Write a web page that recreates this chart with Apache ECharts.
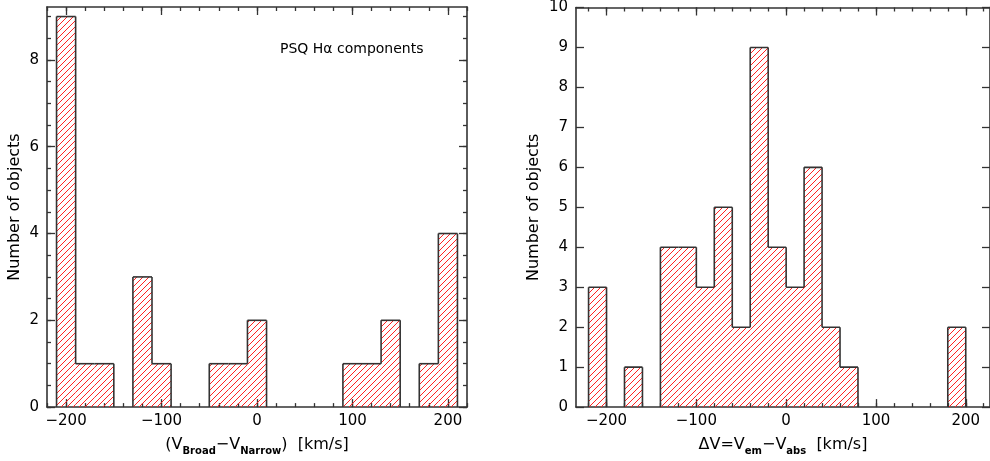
<!DOCTYPE html>
<html>
<head>
<meta charset="utf-8">
<title>Histograms</title>
<script src="https://cdn.jsdelivr.net/npm/echarts@6/dist/echarts.min.js"></script>
<style>
  html, body { margin: 0; padding: 0; background: #ffffff; }
  #chart { width: 990px; height: 461px; }
</style>
</head>
<body>
<div id="chart"></div>
<script>
// left panel: PSQ H-alpha components, bins of 20 km/s (left edges)
const leftEdges = [-210, -190, -170, -130, -110, -50, -30, -10, 90, 110, 130, 170, 190];
const leftCounts = [9, 1, 1, 3, 1, 1, 1, 2, 1, 1, 2, 1, 4];
// right panel: dV = V_em - V_abs
const rightEdges = [-220, -180, -140, -120, -100, -80, -60, -40, -20, 0, 20, 40, 60, 180];
const rightCounts = [3, 1, 4, 4, 3, 5, 2, 9, 4, 3, 6, 2, 1, 2];
const binWidth = 20;

const xMajorTicks = [-200, -100, 0, 100, 200];
const leftYTicks = [0, 2, 4, 6, 8];
const rightYTicks = [0, 1, 2, 3, 4, 5, 6, 7, 8, 9, 10];

const frameColor = '#333333';
const hatchColor = '#ff2222';
const hatchStep = 6;
const fontFamily = '"DejaVu Sans", sans-serif';

function steps(from, to, step) {
  const out = [];
  for (let v = from; v <= to + 1e-9; v += step) out.push(+v.toFixed(3));
  return out;
}

function histData(edges, counts) {
  return edges.map((e, i) => {
    const hl = (i > 0 && edges[i - 1] + binWidth === e) ? counts[i - 1] : 0;
    const hr = (i < edges.length - 1 && e + binWidth === edges[i + 1]) ? counts[i + 1] : 0;
    return [e, e + binWidth, counts[i], hl, hr];
  });
}

function renderItem(params, api) {
  const x0 = api.value(0), x1 = api.value(1), h = api.value(2);
  const hl = api.value(3), hr = api.value(4);
  const a = api.coord([x0, 0]);
  const b = api.coord([x1, h]);
  const xa = a[0], xb = b[0], ya = b[1], yb = a[1];
  const children = [];
  // "/" hatching: lines x + y = c in screen space
  let c = Math.ceil((xa + ya) / hatchStep) * hatchStep;
  for (; c < xb + yb; c += hatchStep) {
    const sx = Math.max(xa, c - yb), ex = Math.min(xb, c - ya);
    if (ex <= sx) continue;
    children.push({
      type: 'line',
      shape: { x1: sx, y1: c - sx, x2: ex, y2: c - ex },
      style: { stroke: hatchColor, lineWidth: 1 }
    });
  }
  const line = (p, q) => ({
    type: 'line',
    shape: { x1: p[0], y1: p[1], x2: q[0], y2: q[1] },
    style: { stroke: frameColor, lineWidth: 1.6 }
  });
  children.push(line(api.coord([x0, h]), api.coord([x1, h])));
  if (h > hl) children.push(line(api.coord([x0, hl]), api.coord([x0, h])));
  if (h > hr) children.push(line(api.coord([x1, hr]), api.coord([x1, h])));
  return { type: 'group', children: children };
}

const labelFmt = v => String(v).replace('-', '\u2212');
const tickStyle = { color: frameColor, width: 1.3 };
const frameLine = { show: true, onZero: false, lineStyle: { color: frameColor, width: 1.6 } };
const noLine = { show: false, onZero: false };

function xAxes(grid, min, max, name) {
  const minor = steps(Math.ceil(min / 20) * 20, max, 20);
  const base = { type: 'value', gridIndex: grid, min: min, max: max, splitLine: { show: false } };
  return [
    Object.assign({}, base, {
      position: 'bottom',
      axisLine: frameLine,
      axisTick: { show: true, inside: true, length: 8, customValues: xMajorTicks, lineStyle: tickStyle },
      axisLabel: { customValues: xMajorTicks, formatter: labelFmt, color: '#000', fontSize: 15, fontFamily: fontFamily, margin: 7 },
      name: name, nameLocation: 'middle', nameGap: 20,
      nameTextStyle: {
        color: '#000', fontSize: 16, fontFamily: fontFamily, lineHeight: 22,
        rich: { s: { fontSize: 10, fontWeight: 'bold', fontFamily: fontFamily, verticalAlign: 'bottom', lineHeight: 12, color: '#000' } }
      }
    }),
    Object.assign({}, base, {
      position: 'bottom',
      axisLine: noLine,
      axisTick: { show: true, inside: true, length: 4, customValues: minor, lineStyle: tickStyle },
      axisLabel: { show: false }
    }),
    Object.assign({}, base, {
      position: 'top',
      axisLine: frameLine,
      axisTick: { show: true, inside: true, length: 8, customValues: xMajorTicks, lineStyle: tickStyle },
      axisLabel: { show: false }
    }),
    Object.assign({}, base, {
      position: 'top',
      axisLine: noLine,
      axisTick: { show: true, inside: true, length: 4, customValues: minor, lineStyle: tickStyle },
      axisLabel: { show: false }
    })
  ];
}

function yAxes(grid, max, majors, minors, nameGap) {
  const base = { type: 'value', gridIndex: grid, min: 0, max: max, splitLine: { show: false } };
  const list = [
    Object.assign({}, base, {
      position: 'left',
      axisLine: frameLine,
      axisTick: { show: true, inside: true, length: 8, customValues: majors, lineStyle: tickStyle },
      axisLabel: { customValues: majors, color: '#000', fontSize: 15, fontFamily: fontFamily, margin: 8 },
      name: 'Number of objects', nameLocation: 'middle', nameGap: nameGap,
      nameTextStyle: { color: '#000', fontSize: 16, fontFamily: fontFamily }
    }),
    Object.assign({}, base, {
      position: 'right',
      axisLine: frameLine,
      axisTick: { show: true, inside: true, length: 8, customValues: majors, lineStyle: tickStyle },
      axisLabel: { show: false }
    })
  ];
  if (minors) {
    list.push(Object.assign({}, base, {
      position: 'left',
      axisLine: noLine,
      axisTick: { show: true, inside: true, length: 4, customValues: minors, lineStyle: tickStyle },
      axisLabel: { show: false }
    }));
    list.push(Object.assign({}, base, {
      position: 'right',
      axisLine: noLine,
      axisTick: { show: true, inside: true, length: 4, customValues: minors, lineStyle: tickStyle },
      axisLabel: { show: false }
    }));
  }
  return list;
}

const leftX = xAxes(0, -220, 220, '(V{s|Broad}\u2212V{s|Narrow})  [km/s]');
const rightX = xAxes(1, -234, 227, '\u0394V=V{s|em}\u2212V{s|abs}  [km/s]');
const leftY = yAxes(0, 9.22, leftYTicks, steps(0, 9, 0.5), 24);
const rightY = yAxes(1, 10, rightYTicks, null, 34);

const option = {
  animation: false,
  backgroundColor: '#ffffff',
  title: {
    text: 'PSQ H\u03b1 components',
    left: 275, top: 37,
    textStyle: { color: '#000', fontSize: 14, fontWeight: 'normal', fontFamily: fontFamily }
  },
  grid: [
    { left: 47, top: 7, width: 420, height: 404.5 },
    { left: 576, top: 7, width: 414, height: 404.5 }
  ],
  xAxis: leftX.concat(rightX),
  yAxis: leftY.concat(rightY),
  series: [
    {
      type: 'custom', xAxisIndex: 0, yAxisIndex: 0,
      renderItem: renderItem, clip: true,
      encode: { x: [0, 1], y: 2 },
      data: histData(leftEdges, leftCounts)
    },
    {
      type: 'custom', xAxisIndex: 4, yAxisIndex: leftY.length,
      renderItem: renderItem, clip: true,
      encode: { x: [0, 1], y: 2 },
      data: histData(rightEdges, rightCounts)
    }
  ]
};

const chart = echarts.init(document.getElementById('chart'));
chart.setOption(option);
</script>
</body>
</html>
